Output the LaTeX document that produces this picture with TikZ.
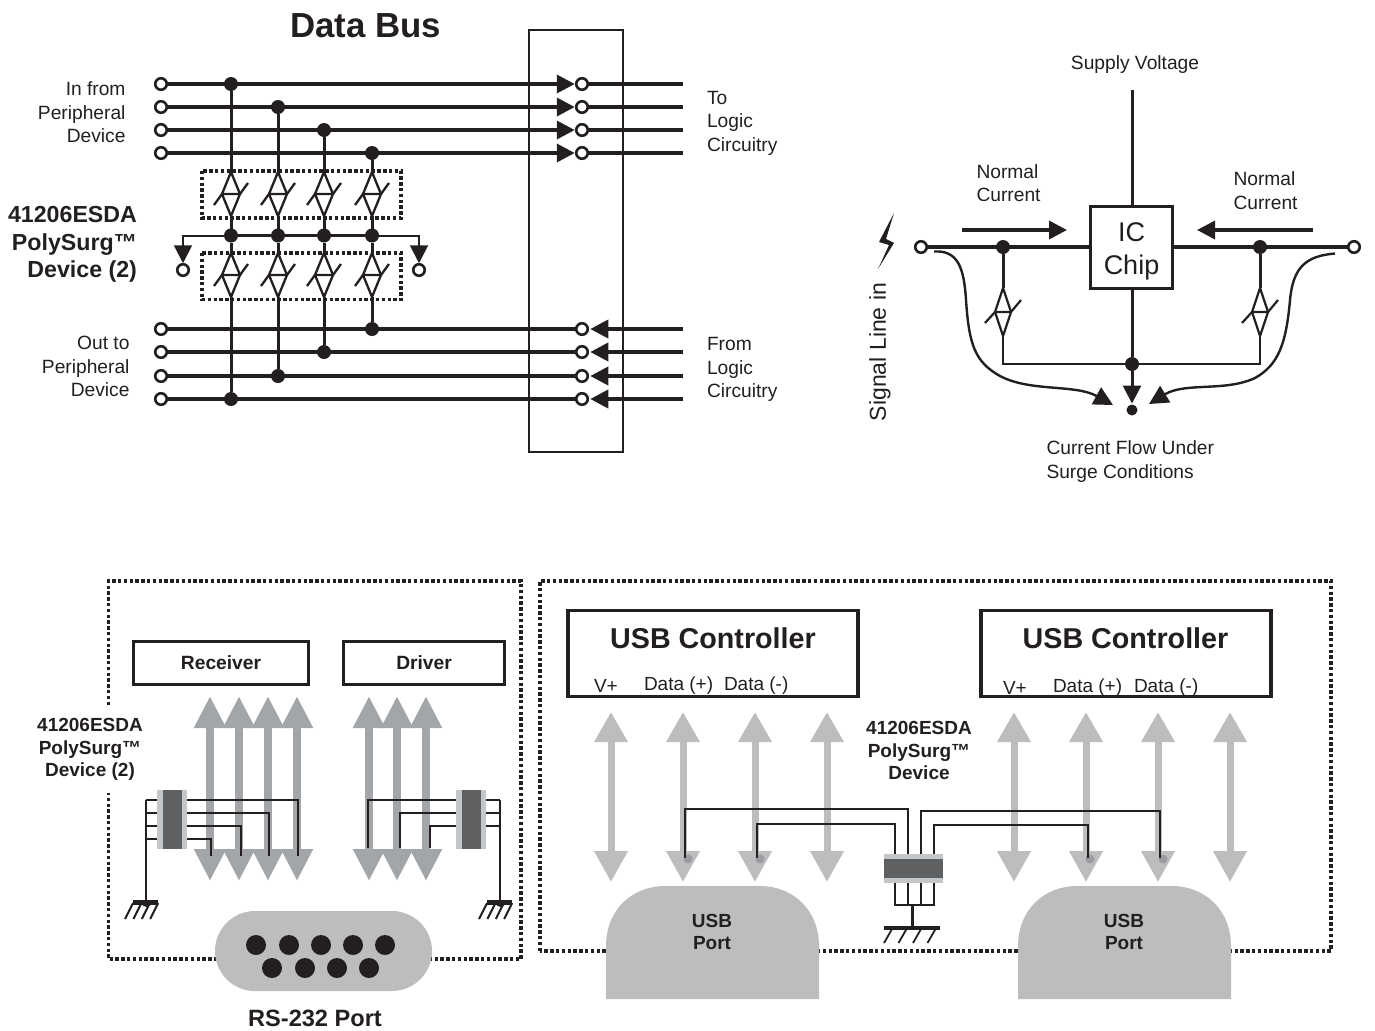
\documentclass[tikz,border=0pt]{standalone}
\usepackage{fontspec}
\setmainfont{Liberation Sans}
\usetikzlibrary{arrows.meta}
\definecolor{arrL}{HTML}{A2A6A9}
\definecolor{arrU}{HTML}{BBBDBF}
\definecolor{chipL}{HTML}{C4C7CA}
\definecolor{chipD}{HTML}{5F6062}
\definecolor{portG}{HTML}{BBBDBF}
\definecolor{pinG}{HTML}{9A9C9F}
\definecolor{ink}{HTML}{231F20}
\newcommand{\fs}[1]{\fontsize{#1bp}{#1bp}\selectfont}
\tikzset{
  x=1bp,y=-1bp,
  every node/.style={text=ink,inner sep=0pt,outer sep=0pt},
  base/.style={align=left,font=\fontsize{19.2bp}{23.4bp}\selectfont},
  labr/.style={align=right,font=\fontsize{19.2bp}{23.4bp}\selectfont},
  labb/.style={align=center,font=\fontsize{19bp}{22.2bp}\selectfont\bfseries},
  term/.style={circle,draw=ink,fill=white,line width=2.6bp,minimum size=11.5bp},
  jdot/.style={circle,fill=ink,minimum size=14bp},
  bus/.style={draw=ink,line width=3.6bp},
  vert/.style={draw=ink,line width=3bp},
  thin wire/.style={draw=ink,line width=1.7bp},
  head/.style={-{Triangle[length=18bp,width=18bp]}},
  dotbox/.style={draw=ink,line width=3.6bp,dash pattern=on 3.4bp off 2.4bp},
  blackbox/.style={draw=ink,line width=3.8bp,fill=white},
  gL/.style={draw=arrL,line width=8bp,{Triangle[length=32bp,width=30bp,fill=arrL]}-{Triangle[length=32bp,width=30bp,fill=arrL]}},
  gU/.style={draw=arrU,line width=7bp,{Triangle[length=30bp,width=32bp,fill=arrU]}-{Triangle[length=31bp,width=32bp,fill=arrU]}},
  tvs/.pic={
    \coordinate (-top) at (0,-22);
    \coordinate (-bot) at (0,22);
    \draw[ink,line width=2.3bp,line join=miter] (0,-22) -- (9,0) -- (0,22) -- (-9,0) -- cycle;
    \draw[ink,line width=2.3bp] (-17,11) -- (-9,0) -- (9,0) -- (17,-11);
  },
  tvssmall/.pic={
    \coordinate (-top) at (0,-24);
    \coordinate (-bot) at (0,24);
    \draw[ink,line width=2.2bp] (0,-24) -- (8,0) -- (0,24) -- (-8,0) -- cycle;
    \draw[ink,line width=2.2bp] (-18,11) -- (-8,0) -- (8,0) -- (18,-12);
  },
  gndpic/.pic={
    \fill[ink] (-4.5,2) arc[start angle=180,end angle=0,radius=5] -- cycle;
    \fill[ink] (-13,0) rectangle (12,5);
    \foreach \k in {0,1,2,3}
      \draw[ink,line width=2bp] (-21+8.4*\k,19) -- (-13+8.4*\k,3);
  }
}
\begin{document}
\begin{tikzpicture}
\useasboundingbox (0,0) rectangle (1375,1030);
% ---------- Data bus
\node[font=\fs{34.8}\bfseries] (title) at (365.5,26) {Data Bus};
\draw[draw=ink,line width=2.6bp] (529,30) rectangle (623,452);
% dotted boxes
\draw[dotbox] (202,171) rectangle (401,218);
\draw[dotbox] (202,253) rectangle (401,299.5);
% TVS
\foreach \n/\x in {1/231,2/278,3/324,4/372}{
  \pic (tu\n) at (\x,194) {tvs};
  \pic (td\n) at (\x,275) {tvs};
  \node[jdot] (rail\n) at (\x,235.5) {};
}
% input lines
\foreach \n/\y/\x in {1/84/231,2/107/278,3/130/324,4/153/372}{
  \node[term] (inL\n) at (161,\y) {};
  \node[term] (inR\n) at (582,\y) {};
  \coordinate (inE\n) at (683,\y);
  \node[jdot] (inD\n) at (\x,\y) {};
  \draw[bus,head,shorten >=1.5bp] (inL\n) -- (inR\n);
  \draw[bus] (inR\n) -- (inE\n);
  \draw[vert] (inD\n) -- (tu\n-top);
  \draw[vert] (tu\n-bot) -- (rail\n);
  \draw[vert] (rail\n) -- (td\n-top);
}
% output lines
\foreach \n/\y/\x in {4/329/372,3/352/324,2/376/278,1/399/231}{
  \node[term] (outL\n) at (161,\y) {};
  \node[term] (outR\n) at (582,\y) {};
  \coordinate (outE\n) at (683,\y);
  \node[jdot] (outD\n) at (\x,\y) {};
  \draw[bus,head,shorten >=2.5bp] (outE\n) -- (outR\n);
  \draw[bus] (outR\n) -- (outL\n);
  \draw[vert] (td\n-bot) -- (outD\n);
}
% rail
\node[term] (railL) at (183,270) {};
\node[term] (railR) at (419,270) {};
\draw[vert] (rail1) -- (rail2);
\draw[vert] (rail2) -- (rail3);
\draw[vert] (rail3) -- (rail4);
\draw[draw=ink,line width=2bp,head,shorten >=1bp] (rail1) -| (railL);
\draw[draw=ink,line width=2bp,head,shorten >=1bp] (rail4) -| (railR);
% labels
\node[labr,anchor=east] (l1) at (125.5,112.5) {In from\\Peripheral\\Device};
\node[base,anchor=west] (l2) at (707,123) {To\\Logic\\Circuitry};
\node[labr,anchor=east,font=\fontsize{23.2bp}{27.4bp}\selectfont\bfseries] (l3) at (137,244.5) {41206ESDA\\PolySurg™\\Device (2)};
\node[labr,anchor=east] (l4) at (129.5,366.5) {Out to\\Peripheral\\Device};
\node[base,anchor=west] (l5) at (707,369.5) {From\\Logic\\Circuitry};
% ---------- IC circuit
\node[draw=ink,line width=2.6bp,fill=white,minimum size=82bp] (ic) at (1131.5,247.5) {};
\node[align=center,font=\fontsize{27bp}{33bp}\selectfont] (ict) at (1131.5,251.5) {IC\\Chip};
\node[font=\fs{19.2}] (sv) at (1135,64.5) {Supply Voltage};
\coordinate (svE) at (1132,90);
\draw[vert] (svE) -- (ic.north -| svE);
\node[term] (sL) at (921,247) {};
\node[term] (sR) at (1354,247) {};
\node[jdot] (dL) at (1003,247) {};
\node[jdot] (dR) at (1260,247) {};
\draw[bus] (sL) -- (ic.west |- sL);
\draw[bus] (ic.east |- sR) -- (sR);
\pic (tL) at (1003,312) {tvssmall};
\pic (tR) at (1260,312) {tvssmall};
\node[jdot] (dB) at (1132,364) {};
\node[circle,fill=ink,minimum size=11bp] (dG) at (1132,410) {};
\draw[vert] (dL) -- (tL-top);
\draw[vert] (dR) -- (tR-top);
\draw[draw=ink,line width=2.2bp] (tL-bot) |- (dB);
\draw[draw=ink,line width=2.2bp] (tR-bot) |- (dB);
\draw[vert] (ic.south -| dB) -- (dB);
\draw[vert,-{Triangle[length=18bp,width=18bp]}] (dB) -- ([yshift=1bp]dG.north);
% normal current arrows
\coordinate (n1a) at (962,230); \coordinate (n1b) at (1067,230);
\coordinate (n2a) at (1313,230); \coordinate (n2b) at (1197,230);
\draw[bus,head] (n1a) -- (n1b);
\draw[bus,head] (n2a) -- (n2b);
% surge curves
\coordinate (c1a) at (934,251.5); \coordinate (c1b) at (1113,405);
\coordinate (c2a) at (1335,253.5); \coordinate (c2b) at (1149,404);
\draw[draw=ink,line width=2.4bp,-{Triangle[length=19bp,width=19bp]}]
  (c1a) .. controls (958,250) and (964,268) .. (966,300)
  .. controls (969,345) and (975,362) .. (1000,376)
  .. controls (1030,392) and (1075,384) .. (c1b);
\draw[draw=ink,line width=2.4bp,-{Triangle[length=19bp,width=19bp]}]
  (c2a) .. controls (1305,256) and (1293,268) .. (1290,300)
  .. controls (1286,345) and (1278,365) .. (1255,378)
  .. controls (1225,392) and (1185,382) .. (c2b);
% lightning
\fill[ink] (894,213) -- (879,242) -- (889,245) -- (878,269) -- (894,243) -- (886,239) -- cycle;
\node[font=\fs{23},rotate=90] (sig) at (880,352) {Signal Line in};
\node[base,anchor=west] (nc1) at (976.5,183) {Normal\\Current};
\node[base,anchor=west] (nc2) at (1233.5,190.5) {Normal\\Current};
\node[base,anchor=west] (cf) at (1046.5,461.5) {Current Flow Under\\Surge Conditions};
% ---------- RS-232 side
\draw[dotbox] (108.5,705) -- (108.5,581) -- (521,581) -- (521,959) -- (108.5,959) -- (108.5,793);
\node[blackbox,minimum width=175bp,minimum height=43bp,font=\fs{19.2}\bfseries] (rx) at (221,663) {Receiver};
\node[blackbox,minimum width=161bp,minimum height=43bp,font=\fs{19.2}\bfseries] (dx) at (424,663) {Driver};
\foreach \n/\x in {1/210,2/239,3/268,4/297,5/369,6/397,7/426}{
  \coordinate (gt\n) at (\x,696); \coordinate (gb\n) at (\x,881);
  \draw[gL] (gt\n) -- (gb\n);
}
\node[labb] (l6) at (90,749.5) {41206ESDA\\PolySurg™\\Device (2)};
\foreach \n/\x in {a/157,b/456}{
  \fill[chipL] (\x,790) rectangle ++(30,59);
  \fill[chipD] (\x+6,790) rectangle ++(19,59);
}
% chip wires
\coordinate (gndA) at (146,900); \coordinate (gndB) at (500,900);
\foreach \y/\x in {800/298,813/269,826/241,839/211}{
  \draw[thin wire] (187,\y) -- (\x,\y) -- (\x,856);
  \draw[thin wire] (146,\y) -- (157,\y);
}
\draw[thin wire] (146,800) -- (gndA);
\foreach \y/\x in {800/368,813/400,826/430}{
  \draw[thin wire] (456,\y) -- (\x,\y) -- (\x,848);
  \draw[thin wire] (486,\y) -- (500,\y);
}
\draw[thin wire] (500,800) -- (gndB);
\pic at (146,900) {gndpic};
\pic at (500,900) {gndpic};
% RS-232 port
\fill[portG] (255,911) -- (392,911) arc[start angle=-90,end angle=90,radius=40] -- (255,991) arc[start angle=90,end angle=270,radius=40] -- cycle;
\foreach \x in {256,289,321,353,385} \fill[ink] (\x,945) circle[radius=10];
\foreach \x in {272,305,337,369} \fill[ink] (\x,968) circle[radius=10];
\node[font=\fs{23.6}\bfseries] (rs) at (315,1018) {RS-232 Port};
% ---------- USB side
\draw[dotbox] (540,951) -- (540,581) -- (1331,581) -- (1331,951) -- cycle;
\foreach \n/\x in {1/611,2/683,3/755,4/827,5/1014,6/1086,7/1158,8/1230}{
  \coordinate (ut\n) at (\x,712); \coordinate (ub\n) at (\x,882);
  \draw[gU] (ut\n) -- (ub\n);
}
\node[blackbox,minimum width=289.5bp,minimum height=86bp] (u1) at (713,653.5) {};
\node[blackbox,minimum width=289.5bp,minimum height=86bp] (u2) at (1126,653.5) {};
\node[font=\fs{28.7}\bfseries] (ut1) at (713,638) {USB Controller};
\node[font=\fs{28.7}\bfseries] (ut2) at (1125.5,638) {USB Controller};
\node[font=\fs{19},anchor=west] (a1) at (594,685.5) {V+};
\node[font=\fs{19},anchor=west] (a2) at (644,685.5) {Data (+)};
\node[font=\fs{19},anchor=west] (a3) at (724,685.5) {Data (-)};
\node[font=\fs{19},anchor=west] (a4) at (1003,687.5) {V+};
\node[font=\fs{19},anchor=west] (a5) at (1053,687.5) {Data (+)};
\node[font=\fs{19},anchor=west] (a6) at (1134,687.5) {Data (-)};
\node[labb] (l7) at (919,750.5) {41206ESDA\\PolySurg™\\Device};
% pins
\foreach \x in {688,760,1090,1163} \fill[pinG] (\x,859) circle[radius=4.5];
% USB chip
\fill[chipL] (884,854) rectangle (943,883);
\fill[chipD] (884,859) rectangle (943,878);
\draw[thin wire] (895,854) -- (895,824) -- (757,824) -- (757,858);
\draw[thin wire] (908,854) -- (908,809) -- (685,809) -- (685,858);
\draw[thin wire] (921,854) -- (921,811) -- (1160,811) -- (1160,858);
\draw[thin wire] (934,854) -- (934,825) -- (1088,825) -- (1088,858);
\draw[thin wire] (895,883) -- (895,905) -- (934,905) -- (934,883);
\draw[thin wire] (908,883) -- (908,905);
\draw[thin wire] (921,883) -- (921,905);
\coordinate (ug1) at (912,905); \coordinate (ug2) at (912,928);
\draw[vert] (ug1) -- (ug2);
\fill[ink] (884,926) rectangle (940,930);
\foreach \k in {0,1,2,3} \draw[ink,line width=1.8bp] (884+14.5*\k,943) -- (892+14.5*\k,929);
% USB ports
\fill[portG] (606,999) -- (606,946) .. controls (606,910) and (632,886) .. (665,886) -- (760,886) .. controls (793,886) and (819,910) .. (819,946) -- (819,999) -- cycle;
\fill[portG] (1018,999) -- (1018,946) .. controls (1018,910) and (1044,886) .. (1077,886) -- (1172,886) .. controls (1205,886) and (1231,910) .. (1231,946) -- (1231,999) -- cycle;
\node[labb] (p1) at (712,932) {USB\\Port};
\node[labb] (p2) at (1124,932) {USB\\Port};
\end{tikzpicture}
\end{document}
